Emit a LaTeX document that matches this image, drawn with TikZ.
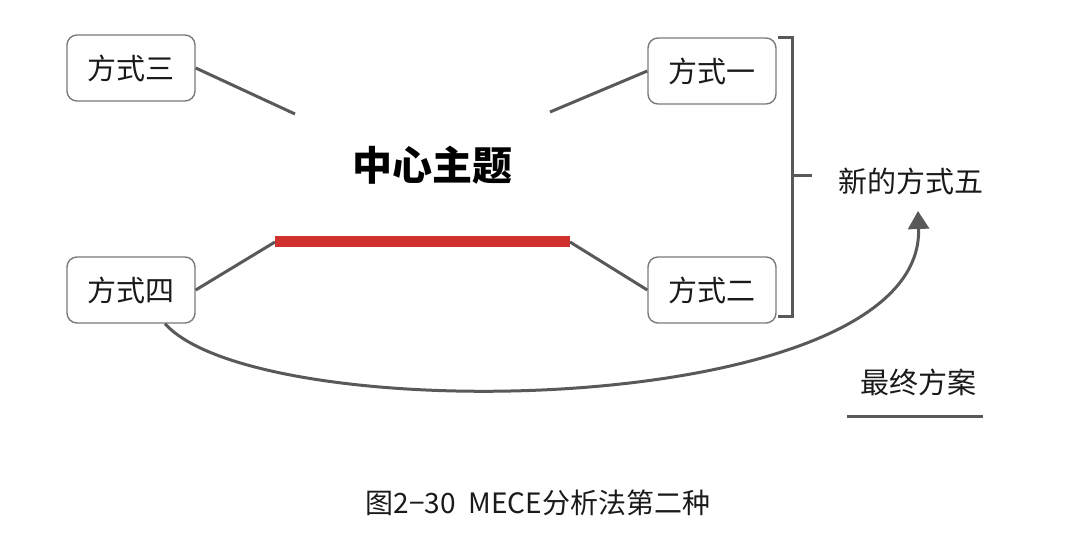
\documentclass[tikz,border=0pt]{standalone}
\usepackage{fontspec}
\setmainfont{Noto Sans CJK SC}
\usepackage{xcolor}
\usepackage{tikz}
\usetikzlibrary{
  arrows.meta,
  positioning,
  calc
}
\definecolor{MeceLine}{HTML}{595959}
\definecolor{MeceBorder}{HTML}{7A7A7A}
\definecolor{MeceRed}{HTML}{D0312D}
\definecolor{MeceText}{HTML}{1A1A1A}

\tikzset{
  waybox/.style={draw=MeceBorder,line width=1.4pt,rounded corners=10pt,
    minimum width=128pt,minimum height=66pt,inner sep=0pt,
    text=MeceText,font=\fontsize{29}{32}\selectfont},
  link/.style={draw=MeceLine,line width=3pt},
  plain/.style={text=MeceText,font=\fontsize{29}{32}\selectfont}
}

\begin{document}
\begin{tikzpicture}[x=1pt,y=-1pt]
  \useasboundingbox (0,0) rectangle (1080,540);

  % the four ways
  \node[waybox] (way3) at (131,68)  {方式三};
  \node[waybox] (way1) at (712,71)  {方式一};
  \node[waybox] (way4) at (131,290) {方式四};
  \node[waybox] (way2) at (712,290) {方式二};

  % centre topic and red bar
  \node[text=black,font=\fontsize{40}{44}\selectfont\bfseries] (topic) at (432,165) {中心主题};
  \coordinate (redL) at (275,242);
  \coordinate (redR) at (570,242);
  \draw[draw=MeceRed,line width=11pt] (redL) -- (redR);

  \coordinate (tip3) at (295,114);
  \coordinate (tip1) at (550,112);
  \draw[link] (way3.east) -- (tip3);
  \draw[link] (way1.west) -- (tip1);
  \draw[link] (way4.east) -- (redL);
  \draw[link] (way2.west) -- (redR);

  % bracket on the right
  \coordinate (brTop) at (778,38);
  \coordinate (brBot) at (778,317);
  \draw[link] (brTop) -- ++(14,0) coordinate (brTR) -- (brTR |- brBot) -- (brBot);
  \coordinate (brMid) at (792,176);
  \draw[link] (brMid) -- ++(20,0);

  \node[plain] (new5) at (911,181) {新的方式五};

  % long arrow to the new way
  \coordinate (arrEnd) at (918,211);
  \draw[link,-{Triangle[width=21pt,length=18pt]}]
    ($(way4.south)+(34,0)$) .. controls (260,430) and (925,420) .. (arrEnd);

  \node[plain] (final) at (918,382) {最终方案};
  \draw[link] (847,416) -- (983,416);

  % caption
  \node[text=MeceText,font=\fontsize{28}{32}\selectfont] (caption) at (538,503) {图2−30\ \ MECE分析法第二种};
\end{tikzpicture}
\end{document}
